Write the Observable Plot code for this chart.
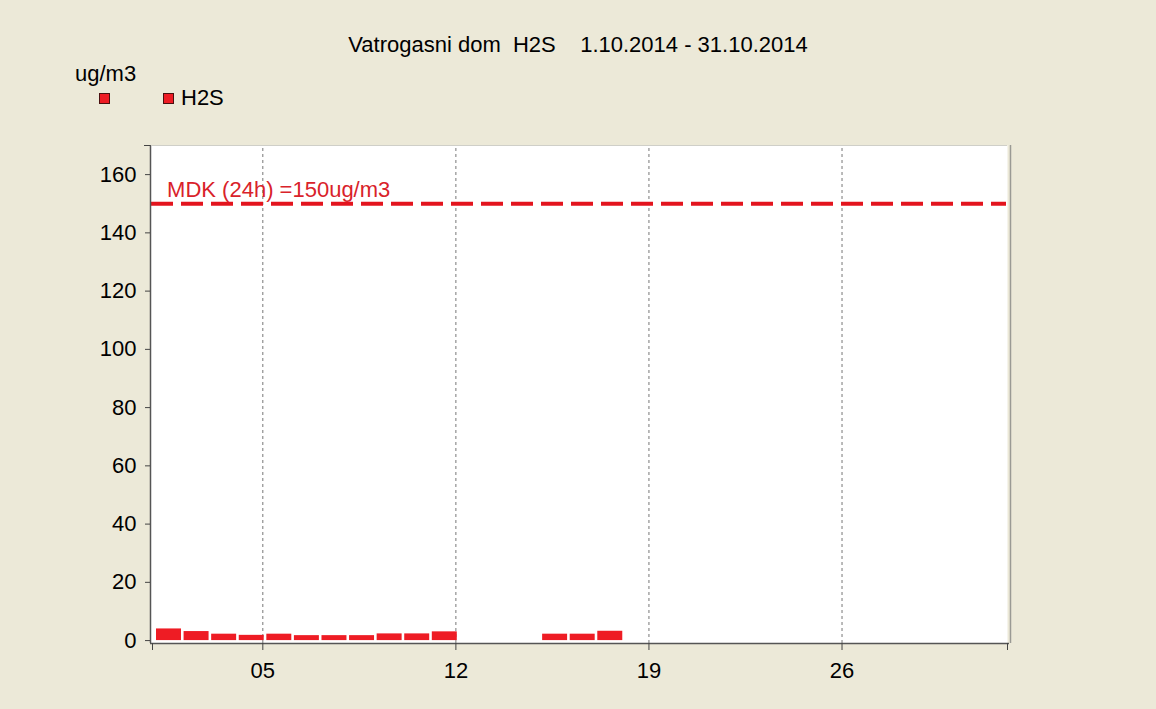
<!DOCTYPE html>
<html>
<head>
<meta charset="utf-8">
<script src="https://cdn.jsdelivr.net/npm/d3@7"></script>
<script src="https://cdn.jsdelivr.net/npm/@observablehq/plot@0.6"></script>
<style>
  html, body { margin: 0; padding: 0; background: #ece9d8; }
  body { width: 1156px; height: 709px; overflow: hidden; font-family: "Liberation Sans", Arial, sans-serif; }
  #header { position: relative; width: 1156px; height: 130px; }
  #title { position: absolute; left: 0; width: 1156px; top: 32px; text-align: center; font-size: 22px; white-space: pre; color: #000; line-height: 25px; }
  #unit { position: absolute; left: 75px; top: 61px; font-size: 22px; color: #000; line-height: 25px; }
  .sw { position: absolute; width: 9px; height: 9px; background: #ee1c24; border: 1px solid #4a1010; top: 93px; }
  #lab { position: absolute; left: 181px; top: 85px; font-size: 22px; color: #000; line-height: 25px; }
  #chart svg { display: block; }
</style>
</head>
<body>
<div id="header">
  <div id="title">Vatrogasni dom  H2S    1.10.2014 - 31.10.2014</div>
  <div id="unit">ug/m3</div>
  <div class="sw" style="left:99px"></div>
  <div class="sw" style="left:163px"></div>
  <div id="lab">H2S</div>
</div>
<div id="chart"></div>
<script>
// Daily H2S values (ug/m3), October 2014
const days   = [1, 2, 3, 4, 5, 6, 7, 8, 9, 10, 11, 15, 16, 17];
const values = [4.0, 3.1, 2.2, 1.8, 2.2, 1.7, 1.7, 1.7, 2.3, 2.3, 3.0, 2.2, 2.2, 3.2];
const xTicks = [5, 12, 19, 26];
const xTickLabels = ["05", "12", "19", "26"];
const yTicks = [0, 20, 40, 60, 80, 100, 120, 140, 160];
const limitValue = 150;
const limitLabel = "MDK (24h) =150ug/m3";

const data = days.map((d, i) => ({day: d, value: values[i]}));
const red = "#ee1c24";

const chart = Plot.plot({
  width: 1156,
  height: 579,
  marginLeft: 152,
  marginRight: 149,
  marginTop: 15,
  marginBottom: 66,
  style: {background: "transparent", fontFamily: "Liberation Sans, Arial, sans-serif", fontSize: "22px", color: "#000"},
  x: {domain: [1, 32], axis: null},
  y: {domain: [-1, 170], axis: null},
  marks: [
    Plot.frame({fill: "white", stroke: null, insetLeft: -2}),
    // top and right light borders
    Plot.ruleY([170], {x1: 1, x2: 32, stroke: "#cfcfc8", strokeWidth: 1}),
    Plot.ruleX([32], {y1: -1, y2: 170, stroke: "#9a9a94", strokeWidth: 1.5, dx: 3}),
    // vertical dashed grid
    Plot.ruleX(xTicks, {y1: -1, y2: 170, stroke: "#777", strokeWidth: 1, strokeDasharray: "3,3"}),
    // bars
    Plot.rectY(data, {x1: "day", x2: d => d.day + 1, y1: 0, y2: "value", fill: red, insetLeft: 1.3, insetRight: 1.3, dx: 2.7}),
    // limit line
    Plot.ruleY([limitValue], {x1: 1, x2: 32, dx: -1, stroke: "#e3141e", strokeWidth: 4, strokeDasharray: "22,8"}),
    Plot.text([limitLabel], {x: 1.53, y: limitValue, text: d => d, textAnchor: "start", lineAnchor: "bottom", dy: -7, fill: "#d9222a", fontSize: 22}),
    // axes lines
    Plot.ruleX([1], {y1: -1, y2: 170, dx: -2, stroke: "#555", strokeWidth: 1.5}),
    Plot.ruleY([-1], {x1: 1, x2: 32, dx: 2, stroke: "#555", strokeWidth: 1.5, insetLeft: -4}),
    // y axis
    Plot.axisY(yTicks, {anchor: "left", tickSize: 5, tickPadding: 9, fontSize: 22, dx: -2, stroke: "#444", label: null}),
    Plot.axisY([170], {anchor: "left", tickSize: 6, tickFormat: () => "", dx: -2, stroke: "#444", label: null}),
    // x axis
    Plot.axisX(xTicks, {anchor: "bottom", tickSize: 7, tickPadding: 12, fontSize: 22, tickFormat: d => xTickLabels[xTicks.indexOf(d)], stroke: "#444", label: null}),
    Plot.axisX([1, 32], {anchor: "bottom", tickSize: 7, tickFormat: () => "", stroke: "#444", label: null})
  ]
});
document.getElementById("chart").appendChild(chart);
</script>
</body>
</html>
